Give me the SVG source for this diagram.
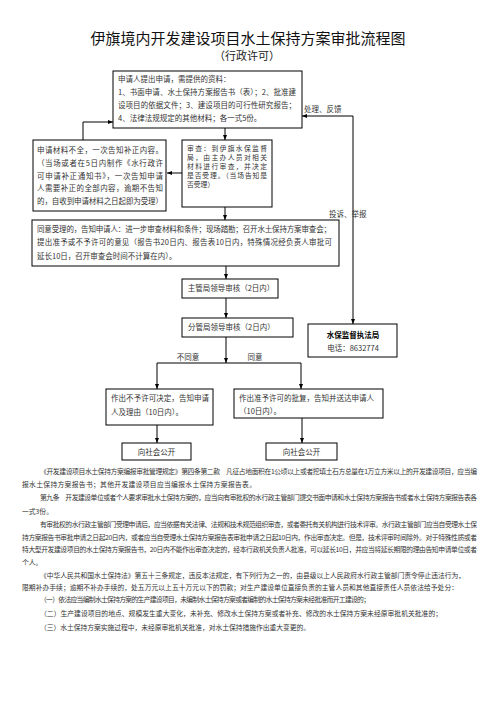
<svg xmlns="http://www.w3.org/2000/svg" width="496" height="702" viewBox="0 0 496 702">
<style>
text{font-family:"Noto Sans CJK SC","Noto Sans",sans-serif;fill:#333}
.title{font-size:15px;fill:#111}
.sub{font-size:11px;fill:#222}
.bt{font-size:7.5px}
.bs{font-size:6.8px}
.bx{fill:#fff;stroke:#000;stroke-width:1}
.p{font-size:6.8px}
.lbl{font-size:7.5px}
.cn{fill:none;stroke:#000;stroke-width:1}
</style>
<defs>
<marker id="ah" viewBox="0 0 10 10" refX="10" refY="5" markerWidth="5" markerHeight="5" orient="auto" markerUnits="userSpaceOnUse"><path d="M0,1 L10,5 L0,9 z" fill="#000"/></marker>
</defs>
<rect width="496" height="702" fill="#fff"/>
<text class="title" x="248" y="44" text-anchor="middle">伊旗境内开发建设项目水土保持方案审批流程图</text>
<text class="sub" x="247" y="60" text-anchor="middle">（行政许可）</text>

<g id="connectors">
<path class="cn" d="M225,128 V140" marker-end="url(#ah)"/>
<path class="cn" d="M182,173 H167" marker-end="url(#ah)"/>
<path class="cn" d="M83,140 V122 H113" marker-end="url(#ah)"/>
<path class="cn" d="M225,207 V220" marker-end="url(#ah)"/>
<path class="cn" d="M353,116 H302" marker-end="url(#ah)"/>
<path class="cn" d="M353,116 V324" marker-end="url(#ah)"/>
<path class="cn" d="M226,266 V279" marker-end="url(#ah)"/>
<path class="cn" d="M226,298 V318" marker-end="url(#ah)"/>
<path class="cn" d="M226,337 V363" marker-end="url(#ah)"/>
<path class="cn" d="M157,363 H301"/>
<path class="cn" d="M157,363 V389" marker-end="url(#ah)"/>
<path class="cn" d="M301,363 V389" marker-end="url(#ah)"/>
<path class="cn" d="M157,425 V443" marker-end="url(#ah)"/>
<path class="cn" d="M302,418 V443" marker-end="url(#ah)"/>
<text class="lbl" x="304" y="112">处理、反馈</text>
<text class="lbl" x="329" y="217">投诉、举报</text>
<text class="lbl" x="188" y="360" text-anchor="middle">不同意</text>
<text class="lbl" x="255" y="360" text-anchor="middle">同意</text>
</g>

<g id="n-apply">
<rect class="bx" x="113" y="71" width="189" height="57"/>
<text class="bt" x="118" y="82">申请人提出申请，需提供的资料：</text>
<text class="bt" x="118" y="95" textLength="178" lengthAdjust="spacing">1、书面申请、水土保持方案报告书（表）；2、批准建</text>
<text class="bt" x="118" y="108" textLength="178" lengthAdjust="spacing">设项目的依据文件；3、建设项目的可行性研究报告；</text>
<text class="bt" x="118" y="121">4、法律法规规定的其他材料；各一式5份。</text>
</g>

<g id="n-incomplete">
<rect class="bx" x="33" y="140" width="133" height="71"/>
<text class="bt" x="37" y="153" textLength="126" lengthAdjust="spacing">申请材料不全，一次告知补正内容。</text>
<text class="bt" x="37" y="166" textLength="126" lengthAdjust="spacing">（当场或者在5日内制作《水行政许</text>
<text class="bt" x="37" y="179" textLength="126" lengthAdjust="spacing">可申请补正通知书》，一次告知申请</text>
<text class="bt" x="37" y="191" textLength="126" lengthAdjust="spacing">人需要补正的全部内容，逾期不告知</text>
<text class="bt" x="37" y="204" textLength="126" lengthAdjust="spacing">的，自收到申请材料之日起即为受理）</text>
</g>

<g id="n-review">
<rect class="bx" x="182" y="140" width="90" height="67"/>
<text class="bs" x="187" y="151" textLength="80" lengthAdjust="spacing">审查：到伊旗水保监督</text>
<text class="bs" x="187" y="160" textLength="80" lengthAdjust="spacing">局，由主办人员对相关</text>
<text class="bs" x="187" y="169" textLength="80" lengthAdjust="spacing">材料进行审查，并决定</text>
<text class="bs" x="187" y="178" textLength="80" lengthAdjust="spacing">是否受理。（当场告知是</text>
<text class="bs" x="187" y="187">否受理）</text>
</g>

<g id="n-accept">
<rect class="bx" x="32" y="220" width="307" height="46"/>
<text class="bt" x="37" y="232" textLength="294" lengthAdjust="spacing">同意受理的，告知申请人：进一步审查材料和条件；现场踏勘；召开水土保持方案审查会；</text>
<text class="bt" x="37" y="245" textLength="295" lengthAdjust="spacing">提出准予或不予许可的意见（报告书20日内、报告表10日内，特殊情况经负责人审批可</text>
<text class="bt" x="37" y="259">延长10日，召开审查会时间不计算在内）。</text>
</g>

<g id="n-chief">
<rect class="bx" x="182" y="279" width="96" height="19"/>
<text class="bt" x="231" y="291" text-anchor="middle">主管局领导审核（2日内）</text>
</g>

<g id="n-deputy">
<rect class="bx" x="182" y="318" width="111" height="19"/>
<text class="bt" x="188" y="330">分管局领导审核（2日内）</text>
</g>

<g id="n-bureau">
<rect class="bx" x="308" y="324" width="89" height="33"/>
<text class="bt" x="353" y="338" text-anchor="middle" font-weight="bold" style="fill:#000">水保监督执法局</text>
<text class="bt" x="353" y="351" text-anchor="middle">电话：8632774</text>
</g>

<g id="n-deny">
<rect class="bx" x="106" y="389" width="107" height="36"/>
<text class="bt" x="111" y="401" textLength="98" lengthAdjust="spacing">作出不予许可决定，告知申请</text>
<text class="bt" x="111" y="415">人及理由（10日内）。</text>
</g>

<g id="n-approve">
<rect class="bx" x="234" y="389" width="149" height="29"/>
<text class="bt" x="239" y="401">作出准予许可的批复，告知并送达申请人</text>
<text class="bt" x="239" y="414">（10日内）。</text>
</g>

<g id="n-public-left">
<rect class="bx" x="122" y="443" width="69" height="17"/>
<text class="bt" x="156.5" y="454.5" text-anchor="middle">向社会公开</text>
</g>

<g id="n-public-right">
<rect class="bx" x="266" y="443" width="71" height="17"/>
<text class="bt" x="301.5" y="454.5" text-anchor="middle">向社会公开</text>
</g>

<g id="notes">
<text class="p" x="40" y="474" textLength="437" lengthAdjust="spacing">《开发建设项目水土保持方案编报审批管理规定》第四条第二款　凡征占地面积在1公顷以上或者挖填土石方总量在1万立方米以上的开发建设项目，应当编</text>
<text class="p" x="22" y="487" textLength="234" lengthAdjust="spacing">报水土保持方案报告书；其他开发建设项目应当编报水土保持方案报告表。</text>
<text class="p" x="40" y="500" textLength="437" lengthAdjust="spacing">第九条　开发建设单位或者个人要求审批水土保持方案的，应当向有审批权的水行政主管部门提交书面申请和水土保持方案报告书或者水土保持方案报告表各</text>
<text class="p" x="22" y="514">一式3份。</text>
<text class="p" x="40" y="527" textLength="437" lengthAdjust="spacing">有审批权的水行政主管部门受理申请后，应当依据有关法律、法规和技术规范组织审查，或者委托有关机构进行技术评审。水行政主管部门应当自受理水土保</text>
<text class="p" x="22" y="540" textLength="455" lengthAdjust="spacing">持方案报告书审批申请之日起20日内，或者应当自受理水土保持方案报告表审批申请之日起10日内，作出审查决定。但是，技术评审时间除外。对于特殊性质或者</text>
<text class="p" x="22" y="552" textLength="455" lengthAdjust="spacing">特大型开发建设项目的水土保持方案报告书，20日内不能作出审查决定的，经本行政机关负责人批准，可以延长10日，并应当将延长期限的理由告知申请单位或者</text>
<text class="p" x="22" y="565">个人。</text>
<text class="p" x="40" y="578" textLength="425" lengthAdjust="spacing">《中华人民共和国水土保持法》第五十三条规定，违反本法规定，有下列行为之一的，由县级以上人民政府水行政主管部门责令停止违法行为，</text>
<text class="p" x="22" y="590" textLength="436" lengthAdjust="spacing">限期补办手续；逾期不补办手续的，处五万元以上五十万元以下的罚款；对生产建设单位直接负责的主管人员和其他直接责任人员依法给予处分：</text>
<text class="p" x="40" y="602" textLength="330" lengthAdjust="spacing">（一）依法应当编制水土保持方案的生产建设项目，未编制水土保持方案或者编制的水土保持方案未经批准而开工建设的；</text>
<text class="p" x="40" y="616" textLength="402" lengthAdjust="spacing">（二）生产建设项目的地点、规模发生重大变化，未补充、修改水土保持方案或者补充、修改的水土保持方案未经原审批机关批准的；</text>
<text class="p" x="40" y="630" textLength="270" lengthAdjust="spacing">（三）水土保持方案实施过程中，未经原审批机关批准，对水土保持措施作出重大变更的。</text>
</g>
</svg>
